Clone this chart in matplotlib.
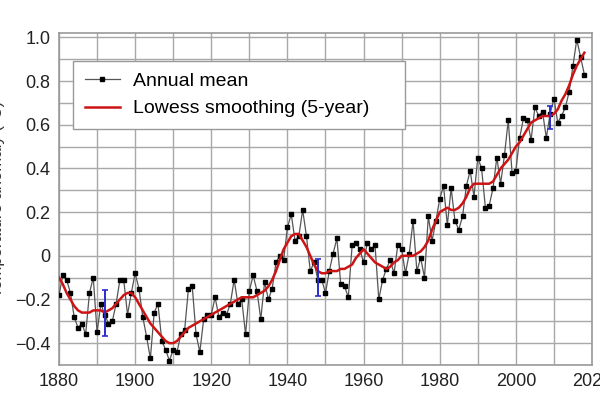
import matplotlib
matplotlib.use("Agg")
import matplotlib.pyplot as plt
from matplotlib.ticker import MultipleLocator, FixedLocator

plt.rcParams["font.family"] = ["Liberation Sans", "DejaVu Sans"]

years = list(range(1880, 2019))

# annual mean temperature anomaly (°C)
annual_mean = [
    -0.18, -0.09, -0.11, -0.17, -0.28, -0.33, -0.31, -0.36, -0.17, -0.10,
    -0.35, -0.22, -0.27, -0.31, -0.30, -0.22, -0.11, -0.11, -0.27, -0.17,
    -0.08, -0.15, -0.28, -0.37, -0.47, -0.26, -0.22, -0.39, -0.43, -0.48,
    -0.43, -0.44, -0.36, -0.34, -0.15, -0.14, -0.36, -0.44, -0.29, -0.27,
    -0.27, -0.19, -0.28, -0.26, -0.27, -0.22, -0.11, -0.22, -0.20, -0.36,
    -0.16, -0.09, -0.16, -0.29, -0.12, -0.20, -0.15, -0.03, -0.00, -0.02,
    0.13, 0.19, 0.07, 0.09, 0.21, 0.09, -0.07, -0.03, -0.11, -0.11,
    -0.17, -0.07, 0.01, 0.08, -0.13, -0.14, -0.19, 0.05, 0.06, 0.03,
    -0.03, 0.06, 0.03, 0.05, -0.20, -0.11, -0.06, -0.02, -0.08, 0.05,
    0.03, -0.08, 0.01, 0.16, -0.07, -0.01, -0.10, 0.18, 0.07, 0.16,
    0.26, 0.32, 0.14, 0.31, 0.16, 0.12, 0.18, 0.32, 0.39, 0.27,
    0.45, 0.40, 0.22, 0.23, 0.31, 0.45, 0.33, 0.46, 0.62, 0.38,
    0.39, 0.54, 0.63, 0.62, 0.53, 0.68, 0.64, 0.66, 0.54, 0.65,
    0.72, 0.61, 0.64, 0.68, 0.75, 0.87, 0.99, 0.91, 0.83,
]

# lowess smoothing (5-year)
lowess = [
    -0.10, -0.13, -0.17, -0.20, -0.23, -0.25, -0.26, -0.26, -0.26, -0.25,
    -0.25, -0.25, -0.26, -0.25, -0.24, -0.22, -0.20, -0.18, -0.17, -0.17,
    -0.19, -0.22, -0.25, -0.28, -0.31, -0.33, -0.35, -0.37, -0.39, -0.40,
    -0.40, -0.39, -0.37, -0.35, -0.33, -0.32, -0.31, -0.30, -0.29, -0.28,
    -0.27, -0.26, -0.25, -0.24, -0.23, -0.22, -0.21, -0.20, -0.19, -0.19,
    -0.19, -0.19, -0.18, -0.17, -0.16, -0.14, -0.11, -0.07, -0.02, 0.03,
    0.06, 0.09, 0.10, 0.10, 0.07, 0.04, 0.00, -0.04, -0.07, -0.08,
    -0.08, -0.07, -0.07, -0.07, -0.06, -0.06, -0.05, -0.04, -0.01, 0.01,
    0.03, 0.01, -0.01, -0.03, -0.04, -0.05, -0.06, -0.05, -0.03, -0.02,
    0.00, 0.00, 0.00, 0.00, 0.01, 0.02, 0.04, 0.07, 0.12, 0.16,
    0.20, 0.21, 0.22, 0.21, 0.21, 0.22, 0.24, 0.27, 0.31, 0.33,
    0.33, 0.33, 0.33, 0.33, 0.34, 0.37, 0.40, 0.42, 0.44, 0.47,
    0.50, 0.52, 0.55, 0.58, 0.61, 0.62, 0.63, 0.64, 0.64, 0.64,
    0.65, 0.67, 0.71, 0.74, 0.78, 0.83, 0.87, 0.90, 0.93,
]

# uncertainty bars
err_years = [1892, 1948, 2009]
err_centers = [-0.26, -0.10, 0.635]
err_half = [0.105, 0.085, 0.053]

fig = plt.figure(figsize=(6, 4), dpi=100)
ax = fig.add_axes([59 / 600, 1 - 365 / 400, 533 / 600, 332 / 400])

ax.plot(years, annual_mean, color="#555555", linewidth=0.9, marker="s",
        markersize=2.2, markerfacecolor="black", markeredgecolor="black",
        label="Annual mean", zorder=3)
ax.plot(years, lowess, color="#cc1414", linewidth=1.8,
        label="Lowess smoothing (5-year)", zorder=4)
ax.errorbar(err_years, err_centers, yerr=err_half, fmt="none",
            ecolor="#2b2bd0", elinewidth=1.4, capsize=2.2, capthick=1.2,
            zorder=5)

ax.set_xlim(1880, 2020)
ax.set_ylim(-0.5, 1.02)
ax.xaxis.set_major_locator(MultipleLocator(20))
ax.xaxis.set_minor_locator(MultipleLocator(10))
ax.yaxis.set_major_locator(FixedLocator([-0.4, -0.2, 0, 0.2, 0.4, 0.6, 0.8, 1.0]))
ax.yaxis.set_minor_locator(MultipleLocator(0.1))
ax.set_yticklabels(["\u22120.4", "\u22120.2", "0", "0.2", "0.4", "0.6", "0.8", "1.0"])

ax.grid(True, which="both", color="#a8a8a8", linewidth=1.0)
ax.set_axisbelow(True)
ax.tick_params(which="both", length=0, labelsize=13, pad=6, colors="#222222")
for side in ax.spines.values():
    side.set_color("#999999")
    side.set_linewidth(1.2)

ax.set_ylabel("Temperature anomaly (°C)", fontsize=12, color="#333333")
ax.yaxis.set_label_coords(-0.102, 0.5)

ax.legend(loc="upper left", bbox_to_anchor=(0.026, 0.0, 0.623, 0.916),
          mode="expand", fontsize=14, frameon=True, fancybox=False,
          edgecolor="#999999", framealpha=1, borderpad=0.6,
          handlelength=1.8, handletextpad=0.7, labelspacing=0.5,
          borderaxespad=0)

fig.savefig("out.png", dpi=100)
